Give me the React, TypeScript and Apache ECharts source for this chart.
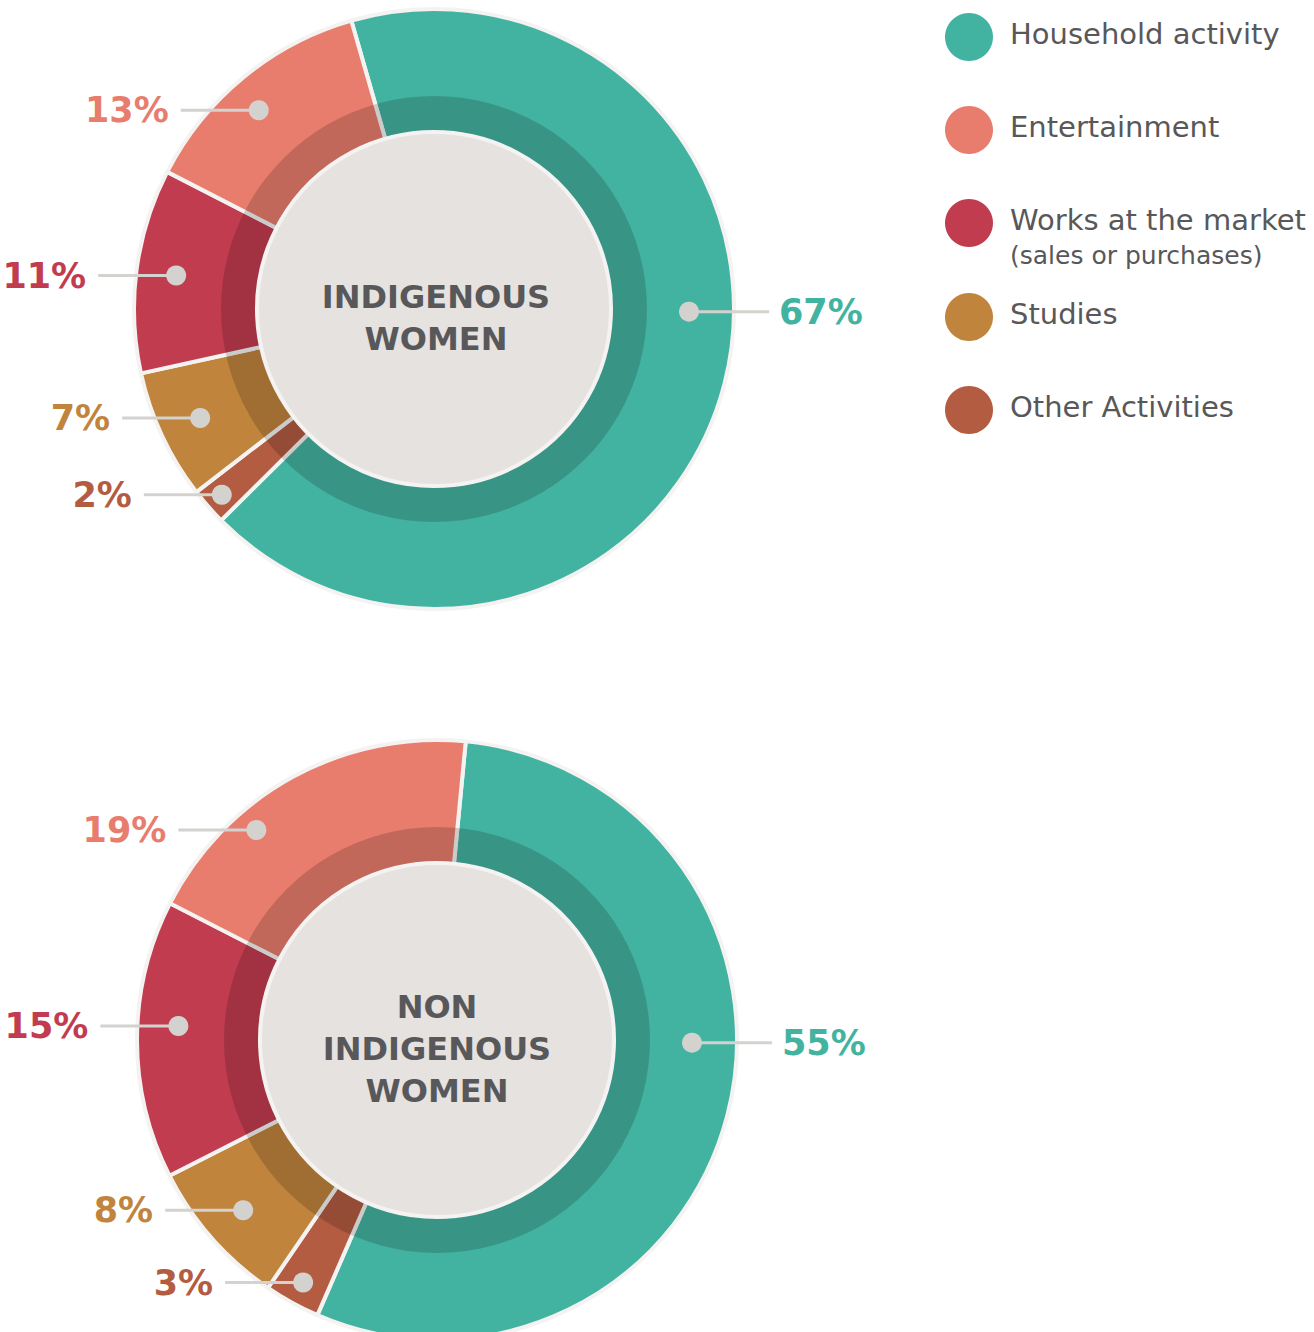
import React, { useEffect, useRef } from "react";
import * as echarts from "echarts";

// ---------- data ----------
const sliceNames = ["Household activity", "Other Activities", "Studies", "Works at the market", "Entertainment"];
const indigenousValues = [67, 2, 7, 11, 13];
const nonIndigenousValues = [55, 3, 8, 15, 19];
const indigenousTitle = ["INDIGENOUS", "WOMEN"];
const nonIndigenousTitle = ["NON", "INDIGENOUS", "WOMEN"];
const legendNames = ["Household activity", "Entertainment", "Works at the market", "Studies", "Other Activities"];
const legendSubNames = ["", "", "(sales or purchases)", "", ""];

// ---------- styles ----------
const colorMap: Record<string, string> = {
  "Household activity": "#43B3A1",
  Entertainment: "#E87D6E",
  "Works at the market": "#C23C50",
  Studies: "#C0843D",
  "Other Activities": "#B35C41",
};
const FONT = '"DejaVu Sans", sans-serif';
const TEXT_GREY = "#58585A";
const DOT_GREY = "#D3D2CE";

type ChartLayout = {
  cx: number;
  cy: number;
  startAngle: number;
  titleDx: number;
  labelRadius: number[];
  labelAngleShift: number[];
  fixedAngle: (number | null)[];
};

const charts: { values: number[]; title: string[]; layout: ChartLayout }[] = [
  {
    values: indigenousValues,
    title: indigenousTitle,
    layout: {
      cx: 434,
      cy: 309,
      startAngle: 106,
      titleDx: 2,
      labelRadius: [255, 282, 258, 260, 265],
      labelAngleShift: [0, 0, 0, 0, 2],
      fixedAngle: [-0.6, null, null, null, null],
    },
  },
  {
    values: nonIndigenousValues,
    title: nonIndigenousTitle,
    layout: {
      cx: 437,
      cy: 1040,
      startAngle: 84.5,
      titleDx: 0,
      labelRadius: [255, 277, 258, 259, 277],
      labelAngleShift: [0, 0, 0, -3, 12],
      fixedAngle: [-0.6, null, null, null, null],
    },
  },
];

const OUTER_R = 300;
const CENTER_R = 177;
const RING_R = 213;

export default function App() {
  const ref = useRef<HTMLDivElement>(null);

  useEffect(() => {
    if (!ref.current) return;
    const chart = echarts.init(ref.current, undefined, { renderer: "svg" });

    const series: any[] = [];
    const graphics: any[] = [];

    charts.forEach((c, ci) => {
      const { cx, cy, startAngle } = c.layout;
      const total = c.values.reduce((a, b) => a + b, 0);

      series.push({
        type: "pie",
        name: "main" + ci,
        center: [cx, cy],
        radius: [120, OUTER_R],
        startAngle,
        clockwise: true,
        silent: true,
        label: { show: false },
        labelLine: { show: false },
        itemStyle: { borderColor: "#F4F3F2", borderWidth: 4 },
        data: sliceNames.map((n, i) => ({
          name: n,
          value: c.values[i],
          itemStyle: { color: colorMap[n] },
        })),
        z: 2,
      });
      series.push({
        type: "pie",
        name: "ring" + ci,
        center: [cx, cy],
        radius: [CENTER_R - 5, RING_R],
        silent: true,
        label: { show: false },
        labelLine: { show: false },
        itemStyle: { color: "rgba(0,0,0,0.165)", borderWidth: 0 },
        data: [{ value: 1, name: "ring" }],
        z: 3,
      });
      series.push({
        type: "pie",
        name: "center" + ci,
        center: [cx, cy],
        radius: [0, CENTER_R],
        silent: true,
        label: { show: false },
        labelLine: { show: false },
        itemStyle: { color: "#E5E2DF", borderColor: "#F4F3F2", borderWidth: 4 },
        data: [{ value: 1, name: "center" }],
        z: 4,
      });

      // center title
      graphics.push({
        type: "text",
        x: cx + c.layout.titleDx,
        y: cy + 9,
        z: 100,
        style: {
          text: c.title.join("\n"),
          font: `bold 32px ${FONT}`,
          fill: TEXT_GREY,
          textAlign: "center",
          textVerticalAlign: "middle",
          align: "center",
          verticalAlign: "middle",
          lineHeight: 42,
        },
      });

      // labels
      let cum = 0;
      c.values.forEach((v, i) => {
        const sliceStart = startAngle - (360 * cum) / total;
        const mid = sliceStart - (360 * v) / 2 / total;
        cum += v;
        const fixed = c.layout.fixedAngle[i];
        const ang = fixed !== null ? fixed : mid + c.layout.labelAngleShift[i];
        const rad = (ang * Math.PI) / 180;
        const r = c.layout.labelRadius[i];
        const dx = cx + r * Math.cos(rad);
        const dy = cy - r * Math.sin(rad);
        const right = Math.cos(rad) > 0;
        const lx = right ? dx + 80 : dx - 78;
        graphics.push({
          type: "line",
          z: 100,
          shape: { x1: dx, y1: dy, x2: lx, y2: dy },
          style: { stroke: DOT_GREY, lineWidth: 3 },
        });
        graphics.push({
          type: "circle",
          z: 101,
          shape: { cx: dx, cy: dy, r: 10 },
          style: { fill: DOT_GREY },
        });
        graphics.push({
          type: "text",
          z: 101,
          x: right ? lx + 10 : lx - 12,
          y: dy,
          style: {
            text: `${v}%`,
            font: `bold 35px ${FONT}`,
            fill: colorMap[sliceNames[i]],
            textAlign: right ? "left" : "right",
            textVerticalAlign: "middle",
            align: right ? "left" : "right",
            verticalAlign: "middle",
          },
        });
      });
    });

    // legend
    const legendY = [37, 130, 223, 317, 410];
    legendNames.forEach((n, i) => {
      graphics.push({
        type: "circle",
        z: 100,
        shape: { cx: 969, cy: legendY[i], r: 24 },
        style: { fill: colorMap[n] },
      });
      graphics.push({
        type: "text",
        z: 100,
        x: 1010,
        y: legendY[i] - 3,
        style: {
          text: n,
          font: `29px ${FONT}`,
          fill: TEXT_GREY,
          textAlign: "left",
          textVerticalAlign: "middle",
          align: "left",
          verticalAlign: "middle",
        },
      });
      if (legendSubNames[i]) {
        graphics.push({
          type: "text",
          z: 100,
          x: 1010,
          y: legendY[i] + 32,
          style: {
            text: legendSubNames[i],
            font: `25px ${FONT}`,
            fill: TEXT_GREY,
            textAlign: "left",
            textVerticalAlign: "middle",
            align: "left",
            verticalAlign: "middle",
          },
        });
      }
    });

    chart.setOption({
      animation: false,
      backgroundColor: "#FFFFFF",
      series,
      graphic: { elements: graphics },
    });

    return () => chart.dispose();
  }, []);

  return (
    <div
      ref={ref}
      style={{ position: "absolute", left: 0, top: 0, width: 1314, height: 1332 }}
    />
  );
}
